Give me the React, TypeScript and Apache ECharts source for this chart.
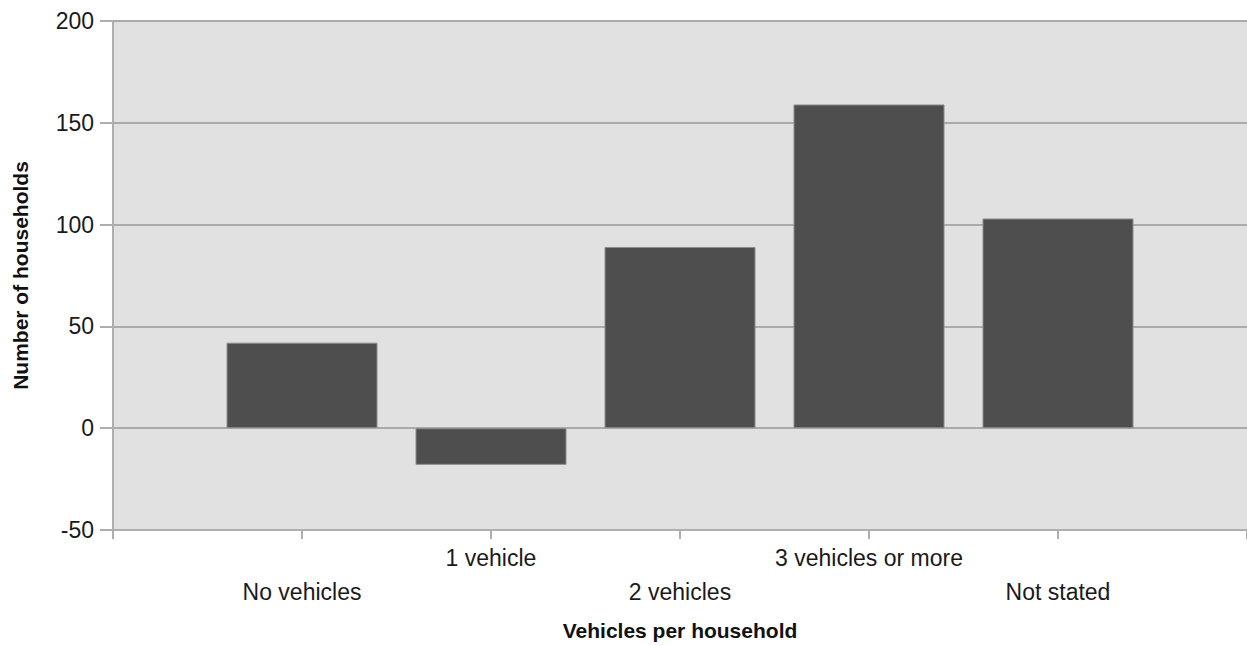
import React, { useEffect, useRef } from "react";
import * as echarts from "echarts";

const categories = ["", "No vehicles", "1 vehicle", "2 vehicles", "3 vehicles or more", "Not stated", ""];
const households: (number | null)[] = [null, 42, -18, 89, 159, 103, null];
const yMin = -50;
const yMax = 200;
const yStep = 50;

export default function App() {
  const ref = useRef<HTMLDivElement>(null);
  useEffect(() => {
    document.body.style.margin = "0";
    const chart = echarts.init(ref.current!, undefined, { renderer: "svg" });
    const font = "'Liberation Sans', Arial, sans-serif";
    chart.setOption({
      animation: false,
      grid: {
        left: 113,
        right: 0,
        top: 21,
        bottom: 116,
        show: true,
        backgroundColor: "#e1e1e1",
        borderWidth: 0,
        containLabel: false,
        outerBoundsMode: "none",
      },
      xAxis: {
        type: "category",
        data: categories,
        boundaryGap: false,
        axisLine: { show: true, onZero: false, lineStyle: { color: "#aeaeae", width: 2 } },
        axisTick: { show: true, interval: 0, length: 9, lineStyle: { color: "#aeaeae", width: 2 } },
        axisLabel: {
          interval: 0,
          margin: 11,
          fontFamily: font,
          fontSize: 23,
          color: "#1a1a1a",
          lineHeight: 34,
          formatter: (v: string, i: number) => (i % 2 === 1 ? "\n" + v : v),
        },
        splitLine: { show: false },
        name: "Vehicles per household",
        nameLocation: "middle",
        nameGap: 90,
        nameTextStyle: { fontFamily: font, fontSize: 21, fontWeight: "bold", color: "#111" },
      },
      yAxis: {
        type: "value",
        min: yMin,
        max: yMax,
        interval: yStep,
        axisLine: { show: true, lineStyle: { color: "#aeaeae", width: 2 } },
        axisTick: { show: true, length: 13, lineStyle: { color: "#aeaeae", width: 2 } },
        axisLabel: { margin: 19, fontFamily: font, fontSize: 23, color: "#1a1a1a" },
        splitLine: { show: true, lineStyle: { color: "#aaaaaa", width: 2 } },
        name: "Number of households",
        nameLocation: "middle",
        nameRotate: 90,
        nameGap: 82,
        nameTextStyle: { fontFamily: font, fontSize: 21, fontWeight: "bold", color: "#111" },
      },
      series: [
        {
          type: "bar",
          data: households,
          barWidth: 151,
          itemStyle: { color: "#4e4e4e", borderColor: "#8c8c8c", borderWidth: 1 },
        },
      ],
    });
    return () => chart.dispose();
  }, []);
  return <div ref={ref} style={{ width: 1247, height: 646 }} />;
}
